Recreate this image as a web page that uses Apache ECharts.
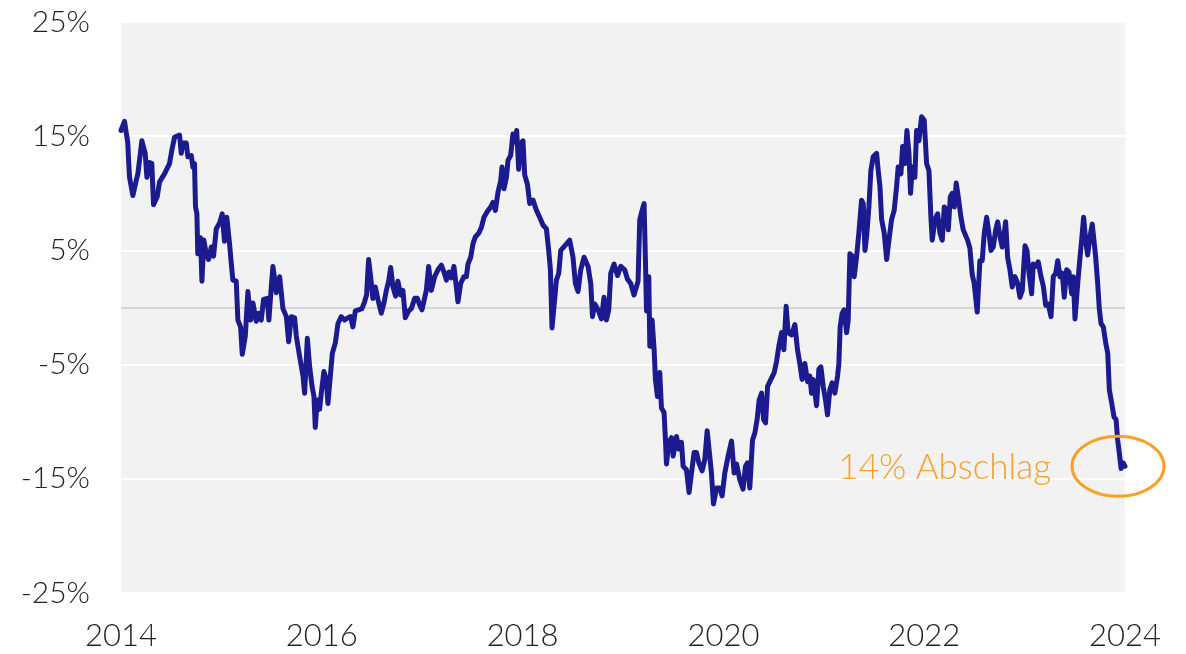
<!DOCTYPE html>
<html>
<head>
<meta charset="utf-8">
<script src="https://cdn.jsdelivr.net/npm/echarts@6/dist/echarts.min.js"></script>
<style>
html,body{margin:0;padding:0;background:#fff;}
#c{width:1186px;height:654px;}
</style>
</head>
<body>
<div id="c"></div>
<script>
// decimal years
const dates = [
2014.000,2014.035,2014.068,2014.075,2014.085,2014.118,2014.151,2014.168,2014.208,2014.241,
2014.258,2014.284,2014.307,2014.324,2014.361,2014.384,2014.433,2014.483,2014.507,2014.533,
2014.583,2014.600,2014.616,2014.650,2014.666,2014.700,2014.716,2014.732,2014.742,2014.756,
2014.765,2014.792,2014.806,2014.825,2014.849,2014.872,2014.899,2014.922,2014.949,2014.982,
2015.008,2015.031,2015.054,2015.081,2015.098,2015.114,2015.148,2015.164,2015.191,2015.208,
2015.238,2015.264,2015.290,2015.314,2015.347,2015.370,2015.397,2015.420,2015.457,2015.473,
2015.497,2015.513,2015.547,2015.580,2015.613,2015.647,2015.670,2015.696,2015.729,2015.746,
2015.779,2015.813,2015.829,2015.856,2015.879,2015.903,2015.922,2015.935,2015.955,2015.978,
2015.995,2016.021,2016.045,2016.061,2016.088,2016.105,2016.135,2016.161,2016.194,2016.227,
2016.260,2016.287,2016.310,2016.334,2016.367,2016.400,2016.426,2016.446,2016.466,2016.486,
2016.509,2016.533,2016.559,2016.593,2016.619,2016.643,2016.666,2016.686,2016.709,2016.735,
2016.758,2016.785,2016.808,2016.832,2016.865,2016.892,2016.925,2016.952,2016.975,2016.998,
2017.017,2017.041,2017.064,2017.091,2017.124,2017.157,2017.191,2017.217,2017.241,2017.267,
2017.290,2017.316,2017.340,2017.356,2017.383,2017.416,2017.440,2017.456,2017.483,2017.506,
2017.530,2017.563,2017.589,2017.615,2017.649,2017.682,2017.705,2017.729,2017.755,2017.782,
2017.795,2017.815,2017.839,2017.855,2017.881,2017.904,2017.928,2017.941,2017.961,2017.981,
2018.004,2018.021,2018.048,2018.071,2018.104,2018.138,2018.170,2018.204,2018.237,2018.260,
2018.277,2018.293,2018.313,2018.337,2018.360,2018.380,2018.420,2018.469,2018.502,2018.526,
2018.552,2018.579,2018.612,2018.652,2018.679,2018.696,2018.719,2018.752,2018.785,2018.811,
2018.835,2018.858,2018.878,2018.911,2018.945,2018.978,2019.017,2019.044,2019.077,2019.110,
2019.150,2019.167,2019.190,2019.210,2019.224,2019.234,2019.257,2019.267,2019.290,2019.310,
2019.323,2019.343,2019.366,2019.383,2019.409,2019.423,2019.433,2019.456,2019.483,2019.499,
2019.533,2019.556,2019.582,2019.599,2019.632,2019.658,2019.682,2019.708,2019.732,2019.755,
2019.788,2019.815,2019.838,2019.864,2019.881,2019.901,2019.931,2019.964,2019.987,2020.014,
2020.047,2020.081,2020.107,2020.131,2020.164,2020.196,2020.220,2020.240,2020.263,2020.290,
2020.313,2020.336,2020.356,2020.380,2020.400,2020.420,2020.440,2020.473,2020.506,2020.530,
2020.552,2020.579,2020.602,2020.625,2020.645,2020.679,2020.712,2020.738,2020.761,2020.784,
2020.811,2020.838,2020.861,2020.878,2020.894,2020.928,2020.951,2020.971,2020.994,2021.017,
2021.037,2021.060,2021.083,2021.110,2021.137,2021.150,2021.163,2021.183,2021.203,2021.227,
2021.243,2021.260,2021.283,2021.303,2021.327,2021.349,2021.376,2021.393,2021.410,2021.426,
2021.449,2021.469,2021.492,2021.526,2021.542,2021.559,2021.576,2021.602,2021.626,2021.649,
2021.675,2021.701,2021.725,2021.741,2021.768,2021.785,2021.808,2021.828,2021.848,2021.864,
2021.881,2021.907,2021.924,2021.947,2021.974,2022.000,2022.024,2022.047,2022.067,2022.080,
2022.107,2022.134,2022.157,2022.180,2022.200,2022.224,2022.240,2022.260,2022.280,2022.300,
2022.319,2022.339,2022.366,2022.389,2022.432,2022.455,2022.478,2022.498,2022.528,2022.555,
2022.578,2022.598,2022.622,2022.645,2022.665,2022.688,2022.712,2022.732,2022.755,2022.777,
2022.797,2022.811,2022.831,2022.854,2022.877,2022.904,2022.931,2022.954,2022.977,2023.004,
2023.024,2023.044,2023.070,2023.086,2023.110,2023.136,2023.163,2023.186,2023.210,2023.236,
2023.263,2023.286,2023.310,2023.330,2023.352,2023.375,2023.395,2023.419,2023.442,2023.469,
2023.485,2023.502,2023.529,2023.552,2023.568,2023.588,2023.608,2023.628,2023.651,2023.674,
2023.694,2023.708,2023.728,2023.744,2023.761,2023.784,2023.808,2023.828,2023.844,2023.868,
2023.891,2023.911,2023.927,2023.944,2023.961,2023.981,2024.000
];
// premium / discount in %
const premium = [
15.5,16.3,14.4,13.0,11.4,9.8,11.1,11.7,14.6,13.5,
11.4,12.7,12.6,9.0,9.7,11.0,11.7,12.6,13.8,14.9,
15.1,13.5,14.4,14.4,13.2,13.3,12.3,12.6,8.8,8.2,
4.7,6.1,2.3,5.9,4.7,4.2,5.3,4.5,6.9,7.4,
8.2,5.8,7.9,5.6,3.9,2.4,2.3,-1.1,-1.7,-4.1,
-2.5,1.4,-1.1,0.4,-1.2,-0.5,-1.1,0.7,0.8,-1.1,
1.8,3.6,1.3,2.7,-0.1,-0.8,-3.0,-0.8,-0.9,-2.5,
-4.3,-6.0,-7.5,-2.7,-5.2,-6.9,-7.8,-10.5,-8.1,-8.9,
-7.5,-5.6,-6.3,-8.4,-5.7,-4.0,-3.1,-1.4,-0.8,-1.1,
-0.9,-0.8,-1.7,-0.3,-0.2,-0.1,0.5,1.1,4.2,2.7,
0.8,1.8,0.7,-0.5,0.4,1.5,2.3,3.5,1.8,1.0,
2.3,1.1,1.5,-0.9,-0.3,-0.1,0.8,0.8,0.2,-0.2,
-0.3,1.5,3.6,1.5,2.7,3.3,3.7,3.1,2.4,3.1,
2.6,3.6,1.8,0.5,2.1,2.7,2.7,3.8,4.4,5.6,
6.2,6.5,7.0,7.9,8.4,8.8,9.2,8.5,10.1,11.1,
12.3,10.4,11.4,12.9,13.3,15.2,14.5,15.5,12.1,14.3,
14.6,11.6,10.8,9.1,9.4,8.5,7.9,7.2,6.9,5.0,
3.3,-1.8,0.1,2.4,3.0,5.0,5.4,5.9,4.4,2.1,
1.4,3.3,4.4,3.6,2.1,-0.8,0.3,-0.2,-1.0,0.9,
-1.1,-0.2,3.0,3.8,2.8,3.6,3.3,2.5,2.1,1.1,
2.3,7.7,8.5,9.1,3.9,-0.3,2.7,-3.4,-1.1,-3.7,
-6.3,-7.8,-5.7,-8.8,-9.2,-11.6,-13.7,-11.8,-11.4,-13.0,
-11.3,-12.4,-11.8,-13.9,-14.2,-16.2,-14.5,-12.7,-12.7,-13.6,
-14.3,-13.3,-10.8,-13.0,-14.5,-17.2,-15.8,-15.8,-16.5,-14.5,
-13.0,-11.7,-14.5,-13.7,-15.1,-15.9,-13.9,-13.6,-15.8,-11.6,
-11.0,-9.8,-8.1,-7.5,-9.8,-10.1,-6.9,-6.3,-5.7,-4.7,
-3.4,-2.2,-3.7,0.1,-2.2,-2.4,-1.5,-3.7,-4.9,-6.3,
-4.9,-6.5,-6.0,-7.5,-6.3,-8.6,-5.4,-5.2,-6.9,-8.1,
-9.4,-7.2,-6.6,-7.5,-6.0,-4.9,-1.7,-0.5,-0.2,-2.2,
-1.1,4.7,4.5,2.7,4.5,6.5,9.4,9.1,5.0,6.2,
8.8,12.0,13.2,13.5,12.0,10.6,7.7,6.5,4.2,5.9,
7.7,8.5,10.6,12.3,11.7,14.1,12.6,15.5,13.5,10.0,
12.3,11.4,15.5,14.6,16.7,16.4,12.6,12.0,7.9,5.9,
7.7,8.2,6.5,5.9,8.8,8.5,6.8,9.7,10.0,8.8,
10.9,9.7,7.9,6.8,5.9,5.2,2.9,2.1,-0.4,4.1,
4.1,6.5,7.9,6.5,5.0,5.3,6.8,7.5,6.2,5.3,
6.5,7.5,4.4,3.3,1.8,2.7,2.1,0.9,1.5,5.4,
5.0,3.0,1.2,3.8,3.6,4.0,2.7,1.9,0.2,0.3,
-0.8,2.7,3.0,4.1,2.7,3.0,0.9,3.3,3.1,1.2,
2.7,-1.0,2.1,4.4,5.9,7.9,5.9,4.6,6.2,7.3,
5.6,4.4,2.1,-0.1,-1.4,-1.7,-3.1,-4.0,-7.2,-8.4,
-9.6,-9.8,-11.6,-12.8,-14.1,-13.6,-13.9
];
const yTicks = [-25, -15, -5, 5, 15, 25];
const xTickYears = [2014, 2016, 2018, 2020, 2022, 2024];
const annotationText = '14% Abschlag';

const seriesData = dates.map((d, i) => [d, premium[i]]);

const chart = echarts.init(document.getElementById('c'), null, {renderer: 'canvas'});
const option = {
  animation: false,
  backgroundColor: '#ffffff',
  grid: {
    left: 121, right: 61, top: 22, bottom: 61,
    show: true, backgroundColor: '#f2f2f2', borderWidth: 0
  },
  xAxis: {
    type: 'value',
    min: xTickYears[0], max: xTickYears[xTickYears.length - 1], interval: 2,
    axisLine: {show: false}, axisTick: {show: false}, splitLine: {show: false},
    axisLabel: {
      margin: 27,
      color: '#222',
      fontSize: 31,
      fontFamily: 'Lato, "Open Sans", sans-serif',
      fontWeight: 300,
      formatter: v => String(v)
    }
  },
  yAxis: {
    type: 'value',
    min: yTicks[0], max: yTicks[yTicks.length - 1], interval: 10,
    axisLine: {show: false}, axisTick: {show: false},
    splitLine: {show: true, lineStyle: {color: '#ffffff', width: 2}},
    axisLabel: {
      margin: 31,
      color: '#222',
      fontSize: 30,
      fontFamily: 'Lato, "Open Sans", sans-serif',
      fontWeight: 300,
      formatter: v => v + '%'
    }
  },
  series: [{
    type: 'line',
    data: seriesData,
    showSymbol: false,
    symbol: 'none',
    lineStyle: {color: '#1b1b8f', width: 5, join: 'round', cap: 'round'},
    markLine: {
      silent: true, symbol: 'none', label: {show: false},
      lineStyle: {color: '#d6d6d6', width: 2, type: 'solid'},
      data: [{yAxis: 0}],
      z: 1
    },
    z: 3
  }]
};
chart.setOption(option);

const last = seriesData[seriesData.length - 1];
const p = chart.convertToPixel({gridIndex: 0}, last);
const cx = p[0] - 7, cy = p[1];
chart.setOption({
  graphic: [
    {
      type: 'ellipse',
      shape: {cx: cx, cy: cy, rx: 46, ry: 30},
      style: {fill: 'none', stroke: '#f7a12b', lineWidth: 3},
      z: 10
    },
    {
      type: 'text',
      x: cx - 67, y: cy + 1,
      style: {
        text: annotationText,
        fill: '#f7a12b',
        font: '300 35px Lato, "Open Sans", sans-serif',
        align: 'right',
        verticalAlign: 'middle'
      },
      z: 10
    }
  ]
});
</script>
</body>
</html>
